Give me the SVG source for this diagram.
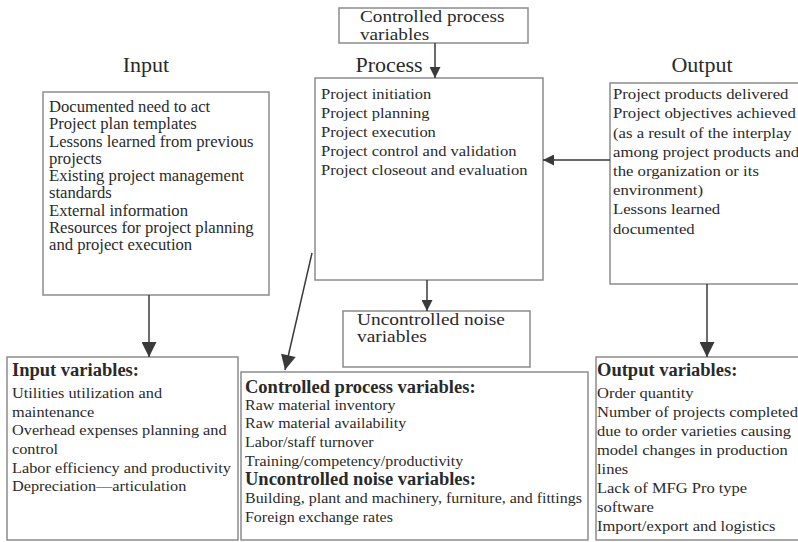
<svg xmlns="http://www.w3.org/2000/svg" width="798" height="542" viewBox="0 0 798 542">
  <defs>
    <style>
      .box { fill: #ffffff; stroke: #8c8c8c; stroke-width: 1.5; }
      .wire { fill: none; stroke: #3a3a3a; stroke-width: 1.5; }
      .t { font-family: "Liberation Serif", "Times New Roman", serif; fill: #2a2a2a; }
      .title { font-size: 22px; }
      .mid { font-size: 17px; }
      .head { font-size: 18.5px; font-weight: bold; }
    </style>
    <marker id="tri" viewBox="0 0 10 10" refX="10" refY="5" markerWidth="11" markerHeight="11" markerUnits="userSpaceOnUse" orient="auto">
      <path d="M0,0 L10,5 L0,10 Z" fill="#3a3a3a"/>
    </marker>
    <marker id="triBig" viewBox="0 0 10 10" refX="10" refY="5" markerWidth="16" markerHeight="15" markerUnits="userSpaceOnUse" orient="auto">
      <path d="M0,0 L10,5 L0,10 Z" fill="#3a3a3a"/>
    </marker>
  </defs>
  <rect width="798" height="542" fill="#ffffff"/>

  <!-- column titles -->
  <text class="t title" x="146" y="72" text-anchor="middle">Input</text>
  <text class="t title" x="389" y="72" text-anchor="middle">Process</text>
  <text class="t title" x="702" y="72" text-anchor="middle">Output</text>

  <g id="controlled-top">
    <rect class="box" x="339" y="8" width="189" height="35"/>
    <g transform="matrix(1.13 0 0 1 -46.8 0)">
      <text class="t mid" x="360" y="22.5">Controlled process</text>
      <text class="t mid" x="360" y="40">variables</text>
    </g>
  </g>

  <g id="input">
    <rect class="box" x="43" y="92" width="226" height="203"/>
    <g transform="matrix(1.04 0 0 1 -1.96 0)">
      <text class="t" font-size="16">
        <tspan x="49" y="112">Documented need to act</tspan>
        <tspan x="49" y="129.3">Project plan templates</tspan>
        <tspan x="49" y="146.6">Lessons learned from previous</tspan>
        <tspan x="49" y="163.9">projects</tspan>
        <tspan x="49" y="181.2">Existing project management</tspan>
        <tspan x="49" y="198.5">standards</tspan>
        <tspan x="49" y="215.8">External information</tspan>
        <tspan x="49" y="233.1">Resources for project planning</tspan>
        <tspan x="49" y="250.4">and project execution</tspan>
      </text>
    </g>
  </g>

  <g id="process">
    <rect class="box" x="315" y="78" width="228" height="202"/>
    <g transform="matrix(1.1 0 0 1 -32.1 0)">
      <text class="t" font-size="15">
        <tspan x="321" y="99">Project initiation</tspan>
        <tspan x="321" y="118">Project planning</tspan>
        <tspan x="321" y="137">Project execution</tspan>
        <tspan x="321" y="156">Project control and validation</tspan>
        <tspan x="321" y="175">Project closeout and evaluation</tspan>
      </text>
    </g>
  </g>

  <g id="output">
    <rect class="box" x="610" y="83" width="190" height="201"/>
    <g transform="matrix(1.115 0 0 1 -70.5 0)">
      <text class="t" font-size="15">
        <tspan x="613" y="99.3">Project products delivered</tspan>
        <tspan x="613" y="118.5">Project objectives achieved</tspan>
        <tspan x="613" y="137.7">(as a result of the interplay</tspan>
        <tspan x="613" y="156.9">among project products and</tspan>
        <tspan x="613" y="176.1">the organization or  its</tspan>
        <tspan x="613" y="195.3">environment)</tspan>
        <tspan x="613" y="214.5">Lessons learned</tspan>
        <tspan x="613" y="233.7">documented</tspan>
      </text>
    </g>
  </g>

  <g id="uncontrolled-noise">
    <rect class="box" x="343" y="311" width="187" height="56"/>
    <g transform="matrix(1.14 0 0 1 -50 0)">
      <text class="t mid" x="357" y="325">Uncontrolled noise</text>
      <text class="t mid" x="357" y="342.5">variables</text>
    </g>
  </g>

  <g id="input-variables">
    <rect class="box" x="7" y="357" width="231" height="183"/>
    <text class="t head" x="12" y="376">Input variables:</text>
    <g transform="matrix(1.086 0 0 1 -1.03 0)">
      <text class="t" font-size="15">
        <tspan x="12" y="398">Utilities utilization and</tspan>
        <tspan x="12" y="416.7">maintenance</tspan>
        <tspan x="12" y="435.4">Overhead expenses planning and</tspan>
        <tspan x="12" y="454.1">control</tspan>
        <tspan x="12" y="472.8">Labor efficiency and productivity</tspan>
        <tspan x="12" y="491.5">Depreciation—articulation</tspan>
      </text>
    </g>
  </g>

  <g id="process-variables">
    <rect class="box" x="241" y="372" width="347" height="168"/>
    <text class="t head" x="245" y="392.7">Controlled process variables:</text>
    <text class="t head" x="245" y="485">Uncontrolled noise variables:</text>
    <g transform="matrix(1.14 0 0 1 -34.3 0)">
      <text class="t" font-size="14">
        <tspan x="245" y="410">Raw material inventory</tspan>
        <tspan x="245" y="428.5">Raw material availability</tspan>
        <tspan x="245" y="447">Labor/staff turnover</tspan>
        <tspan x="245" y="466">Training/competency/productivity</tspan>
        <tspan x="245" y="503">Building, plant and machinery, furniture, and fittings</tspan>
        <tspan x="245" y="521.7">Foreign exchange rates</tspan>
      </text>
    </g>
  </g>

  <g id="output-variables">
    <rect class="box" x="596" y="357" width="204" height="183"/>
    <text class="t head" x="597" y="376">Output variables:</text>
    <g transform="matrix(1.1 0 0 1 -59.7 0)">
      <text class="t" font-size="15">
        <tspan x="597" y="397.7">Order quantity</tspan>
        <tspan x="597" y="416.7">Number of projects completed</tspan>
        <tspan x="597" y="435.7">due to order varieties causing</tspan>
        <tspan x="597" y="454.7">model changes in production</tspan>
        <tspan x="597" y="473.7">lines</tspan>
        <tspan x="597" y="492.7">Lack of MFG Pro type</tspan>
        <tspan x="597" y="511.7">software</tspan>
        <tspan x="597" y="530.7">Import/export and logistics</tspan>
      </text>
    </g>
  </g>

  <g id="connectors">
    <line class="wire" x1="435" y1="43" x2="435" y2="78" marker-end="url(#tri)"/>
    <line class="wire" x1="610" y1="160" x2="543" y2="160" marker-end="url(#tri)"/>
    <line class="wire" x1="427" y1="280" x2="427" y2="311" marker-end="url(#tri)"/>
    <line class="wire" x1="149" y1="295" x2="149" y2="357" marker-end="url(#triBig)"/>
    <line class="wire" x1="707" y1="284" x2="707" y2="357" marker-end="url(#triBig)"/>
    <line class="wire" x1="312" y1="253" x2="285" y2="370" marker-end="url(#triBig)"/>
  </g>
</svg>
